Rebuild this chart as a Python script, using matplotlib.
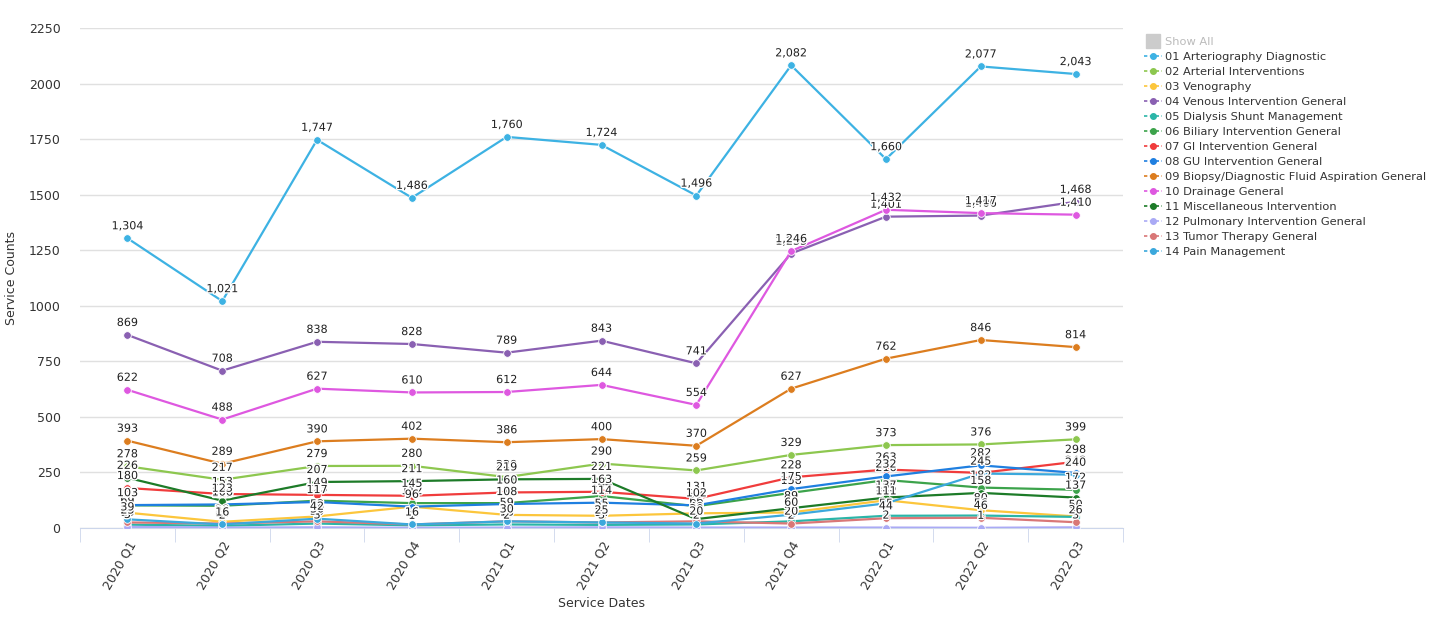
import matplotlib
matplotlib.use('Agg')
import matplotlib.pyplot as plt
import matplotlib.patheffects as pe
from matplotlib.lines import Line2D

# quarters on the x axis
quarters = ['2020 Q1', '2020 Q2', '2020 Q3', '2020 Q4', '2021 Q1', '2021 Q2',
            '2021 Q3', '2021 Q4', '2022 Q1', '2022 Q2', '2022 Q3']

# service counts per category
arteriography = [1304, 1021, 1747, 1486, 1760, 1724, 1496, 2082, 1660, 2077, 2043]
arterial = [278, 217, 279, 280, 229, 290, 259, 329, 373, 376, 399]
venography = [69, 28, 52, 96, 59, 55, 66, 70, 125, 80, 52]
venous = [869, 708, 838, 828, 789, 843, 741, 1235, 1401, 1406, 1468]
dialysis = [15, 10, 20, 12, 16, 14, 16, 30, 55, 56, 50]
biliary = [102, 100, 123, 112, 112, 144, 98, 158, 216, 182, 172]
gi = [180, 153, 149, 145, 160, 163, 131, 228, 263, 248, 298]
gu = [103, 106, 117, 96, 108, 114, 102, 175, 232, 282, 248]
biopsy = [393, 289, 390, 402, 386, 400, 370, 627, 762, 846, 814]
drainage = [622, 488, 627, 610, 612, 644, 554, 1246, 1432, 1417, 1410]
misc = [226, 123, 207, 211, 219, 221, 40, 89, 137, 158, 137]
pulmonary = [5, 2, 3, 1, 2, 3, 2, 2, 2, 1, 3]
tumor = [25, 20, 30, 16, 30, 25, 30, 20, 44, 46, 26]
pain = [39, 16, 42, 16, 30, 25, 20, 60, 111, 245, 240]

names = ['01 Arteriography Diagnostic', '02 Arterial Interventions', '03 Venography',
         '04 Venous Intervention General', '05 Dialysis Shunt Management',
         '06 Biliary Intervention General', '07 GI Intervention General',
         '08 GU Intervention General', '09 Biopsy/Diagnostic Fluid Aspiration General',
         '10 Drainage General', '11 Miscellaneous Intervention',
         '12 Pulmonary Intervention General', '13 Tumor Therapy General',
         '14 Pain Management']
series = [arteriography, arterial, venography, venous, dialysis, biliary, gi, gu,
          biopsy, drainage, misc, pulmonary, tumor, pain]
colors = ['#3db2e3', '#8dc74f', '#fcc63c', '#8a60b2', '#2bb5a8', '#3ca34b', '#f03c3c',
          '#1f7fe0', '#dc7d1f', '#de58e0', '#1d7b28', '#aaaaf5', '#d97777', '#3ba8dc']

fig = plt.figure(figsize=(14.32, 6.32), dpi=100)
ax = fig.add_axes([80/1432, 1-528/632, (1123-80)/1432, 500/632])

x = list(range(len(quarters)))
for vals, c in zip(series, colors):
    ax.plot(x, vals, color=c, linewidth=1.6, marker='o', markersize=5.5,
            markeredgecolor='white', markeredgewidth=0.6, zorder=3)

# value labels on top of everything
for vals in series:
    for xi, v in zip(x, vals):
        t = ax.annotate('{:,}'.format(v), (xi, v), xytext=(0, 5), textcoords='offset points',
                        ha='center', va='bottom', fontsize=8, color='#222222', zorder=5)
        t.set_path_effects([pe.withStroke(linewidth=2, foreground='white')])

ax.set_xlim(-0.5, len(quarters) - 0.5)
ax.set_ylim(0, 2250)
ax.set_yticks(range(0, 2251, 250))
ax.set_xticks(x)
ax.set_xticklabels(quarters, rotation=60, ha='right', rotation_mode='anchor',
                   fontsize=9, color='#333333')
ax.set_xticks([i - 0.5 for i in range(len(quarters) + 1)], minor=True)
ax.tick_params(axis='x', which='major', length=0, pad=8)
ax.tick_params(axis='x', which='minor', length=10, color='#ccd6eb', direction='out')
ax.tick_params(axis='y', length=0, labelsize=9, labelcolor='#333333', pad=14)
ax.grid(axis='y', color='#e0e0e0', linewidth=1)
ax.set_axisbelow(True)
for s in ['top', 'right', 'left']:
    ax.spines[s].set_visible(False)
ax.spines['bottom'].set_color('#ccd6eb')
ax.set_ylabel('Service Counts', fontsize=9, color='#333333', labelpad=8)
ax.set_xlabel('Service Dates', fontsize=9, color='#333333', labelpad=4)

# legend on the right
handles = [Line2D([], [], color='#cccccc', marker='s', markersize=10, linestyle='none')]
labels = ['Show All']
for n, c in zip(names, colors):
    handles.append(Line2D([], [], color=c, marker='o', markersize=4, linewidth=1.2,
                          linestyle=(0, (2, 1.5))))
    labels.append(n)
leg = fig.legend(handles, labels, loc='upper left', bbox_to_anchor=(1139/1432, 1-32/632),
                 frameon=False, fontsize=8.2, handlelength=1.6, handletextpad=0.3,
                 labelspacing=0.44, borderaxespad=0)
for i, t in enumerate(leg.get_texts()):
    t.set_color('#bbbbbb' if i == 0 else '#333333')

fig.savefig('out.png', dpi=100)
